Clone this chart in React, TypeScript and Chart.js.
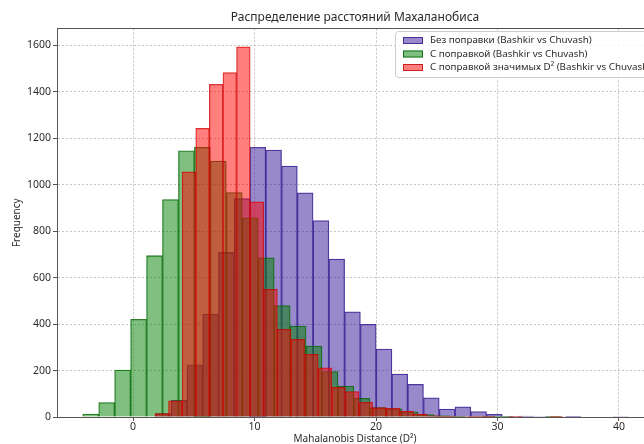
import React, { useEffect, useRef } from "react";
import { Chart, registerables } from "chart.js";

Chart.register(...registerables);

const FONT = "'Noto Sans', 'DejaVu Sans', sans-serif";

const chartTitle = "Распределение расстояний Махаланобиса";
const xAxisTitle = "Mahalanobis Distance (D²)";
const yAxisTitle = "Frequency";

const seriesLabels = [
  "Без поправки (Bashkir vs Chuvash)",
  "С поправкой (Bashkir vs Chuvash)",
  "С поправкой значимых D² (Bashkir vs Chuvash)",
];

// histogram bins: first bin edge and bin width (D² units), 30 bins each
const blueBinStart = 1.84;
const blueBinWidth = 1.298;
const greenBinStart = -4.14;
const greenBinWidth = 1.313;
const redBinStart = 1.8;
const redBinWidth = 1.12;

// counts per bin
const blueCounts = [15, 72, 224, 443, 708, 940, 1160, 1148, 1080, 965, 845, 680, 453, 399, 292, 185, 141, 83, 34, 44, 23, 12, 2, 4, 2, 0, 1, 0, 0, 2];
const greenCounts = [13, 62, 202, 420, 694, 936, 1145, 1160, 1101, 966, 857, 685, 479, 391, 305, 195, 133, 80, 40, 35, 22, 10, 5, 3, 2, 1, 1, 0, 0, 1];
const redCounts = [15, 70, 1055, 1242, 1431, 1482, 1593, 926, 549, 377, 334, 270, 212, 128, 109, 63, 40, 37, 26, 13, 5, 3, 2, 1, 1, 0, 1, 0, 0, 1];

const xTickValues = [0, 10, 20, 30, 40];
const yTickValues = [0, 200, 400, 600, 800, 1000, 1200, 1400, 1600];
const xMin = -6.26;
const xMax = 42.8;
const yMin = 0;
const yMax = 1672;

const seriesStyles = [
  { fill: "rgba(50,22,150,0.5)", edge: "rgba(50,22,140,0.8)" },
  { fill: "rgba(0,128,0,0.5)", edge: "rgba(0,95,0,0.8)" },
  { fill: "rgba(255,0,0,0.5)", edge: "rgba(190,0,0,0.75)" },
];

const SPINE = "#5a524e";
const TEXT = "#2e2a28";
const GRID = "rgba(190,180,180,0.8)";

function toBins(counts: number[], start: number, width: number) {
  return counts.map((c, i) => ({ x: start + width * (i + 0.5), y: c }));
}

const framePlugin = {
  id: "frameAndLegend",
  afterDraw(chart: any) {
    const { ctx, chartArea: a } = chart;
    ctx.save();
    ctx.strokeStyle = SPINE;
    ctx.lineWidth = 1;
    ctx.beginPath();
    ctx.moveTo(a.left, Math.round(a.top) + 0.5);
    ctx.lineTo(a.right, Math.round(a.top) + 0.5);
    ctx.moveTo(Math.round(a.right) - 0.5, a.top);
    ctx.lineTo(Math.round(a.right) - 0.5, a.bottom);
    ctx.stroke();

    // legend inside the plot, upper right
    const lx = 395.5, ly = 31.5, lw = 270, lh = 46, r = 3;
    ctx.beginPath();
    ctx.moveTo(lx + r, ly);
    ctx.lineTo(lx + lw - r, ly);
    ctx.arcTo(lx + lw, ly, lx + lw, ly + r, r);
    ctx.lineTo(lx + lw, ly + lh - r);
    ctx.arcTo(lx + lw, ly + lh, lx + lw - r, ly + lh, r);
    ctx.lineTo(lx + r, ly + lh);
    ctx.arcTo(lx, ly + lh, lx, ly + lh - r, r);
    ctx.lineTo(lx, ly + r);
    ctx.arcTo(lx, ly, lx + r, ly, r);
    ctx.closePath();
    ctx.fillStyle = "rgba(255,255,255,0.85)";
    ctx.fill();
    ctx.strokeStyle = "rgba(205,205,205,1)";
    ctx.stroke();

    ctx.font = `9.8px ${FONT}`;
    ctx.textBaseline = "middle";
    ctx.textAlign = "left";
    chart.data.datasets.forEach((ds: any, i: number) => {
      const cy = 40.5 + i * 13.5;
      ctx.fillStyle = ds.backgroundColor;
      ctx.fillRect(403, cy - 3.5, 20, 7);
      ctx.strokeStyle = ds.borderColor;
      ctx.strokeRect(403.5, cy - 3, 19, 6);
      ctx.fillStyle = TEXT;
      ctx.fillText(ds.label, 430, cy);
    });
    ctx.restore();
  },
};

export default function App() {
  const ref = useRef<HTMLCanvasElement | null>(null);

  useEffect(() => {
    if (!ref.current) return;
    const fixedTicks = (vals: number[]) => (s: any) => {
      s.ticks = vals.map((v) => ({ value: v }));
    };
    const common = {
      grouped: false,
      categoryPercentage: 1,
      barPercentage: 1,
      borderWidth: 0.6,
    };
    const chart = new Chart(ref.current, {
      type: "bar",
      data: {
        datasets: [
          {
            ...common,
            label: seriesLabels[0],
            data: toBins(blueCounts, blueBinStart, blueBinWidth),
            xAxisID: "x",
            order: 2,
            backgroundColor: seriesStyles[0].fill,
            borderColor: seriesStyles[0].edge,
          },
          {
            ...common,
            label: seriesLabels[1],
            data: toBins(greenCounts, greenBinStart, greenBinWidth),
            xAxisID: "x2",
            order: 1,
            backgroundColor: seriesStyles[1].fill,
            borderColor: seriesStyles[1].edge,
          },
          {
            ...common,
            label: seriesLabels[2],
            data: toBins(redCounts, redBinStart, redBinWidth),
            xAxisID: "x3",
            order: 0,
            backgroundColor: seriesStyles[2].fill,
            borderColor: seriesStyles[2].edge,
          },
        ] as any,
      },
      options: {
        animation: false,
        responsive: false,
        devicePixelRatio: 1,
        layout: { padding: { left: 0, right: 7, top: 0, bottom: 0 } },
        plugins: {
          legend: { display: false },
          tooltip: { enabled: false },
          title: {
            display: true,
            fullSize: false,
            text: chartTitle,
            color: TEXT,
            font: { family: FONT, size: 12, weight: "normal" },
            padding: { top: 10, bottom: 4 },
          },
        },
        scales: {
          x: {
            type: "linear",
            position: "bottom",
            min: xMin,
            max: xMax,
            offset: false,
            z: 1,
            afterBuildTicks: fixedTicks(xTickValues),
            afterFit: (s: any) => {
              s.height = 33;
            },
            grid: {
              offset: false,
              color: GRID,
              lineWidth: 1,
              drawTicks: true,
              tickLength: 4,
              tickColor: SPINE,
            },
            border: { display: true, color: SPINE, width: 1, dash: [2, 2] },
            ticks: {
              color: TEXT,
              font: { family: FONT, size: 10.5 },
              padding: 0,
              maxRotation: 0,
              autoSkip: false,
              callback: (v: any) => String(v),
            },
            title: {
              display: true,
              text: xAxisTitle,
              color: TEXT,
              font: { family: FONT, size: 10 },
              padding: { top: 0, bottom: 5 },
            },
          },
          x2: {
            type: "linear",
            display: false,
            min: xMin,
            max: xMax,
            offset: false,
            grid: { offset: false },
            afterBuildTicks: fixedTicks(xTickValues),
          },
          x3: {
            type: "linear",
            display: false,
            min: xMin,
            max: xMax,
            offset: false,
            grid: { offset: false },
            afterBuildTicks: fixedTicks(xTickValues),
          },
          y: {
            type: "linear",
            min: yMin,
            max: yMax,
            z: 1,
            afterBuildTicks: fixedTicks(yTickValues),
            afterFit: (s: any) => {
              s.width = 57;
            },
            grid: {
              color: GRID,
              lineWidth: 1,
              drawTicks: true,
              tickLength: 4,
              tickColor: SPINE,
            },
            border: { display: true, color: SPINE, width: 1, dash: [2, 2] },
            ticks: {
              color: TEXT,
              font: { family: FONT, size: 10.5 },
              padding: 2,
              callback: (v: any) => String(v),
            },
            title: {
              display: true,
              text: yAxisTitle,
              color: TEXT,
              font: { family: FONT, size: 10 },
              padding: { top: 11, bottom: 0 },
            },
          },
        },
      } as any,
      plugins: [framePlugin],
    });
    return () => chart.destroy();
  }, []);

  return (
    <div
      style={{
        position: "fixed",
        left: 0,
        top: 0,
        width: 644,
        height: 444,
        overflow: "hidden",
        background: "#fff",
      }}
    >
      <canvas ref={ref} width={660} height={450} style={{ display: "block" }} />
    </div>
  );
}
